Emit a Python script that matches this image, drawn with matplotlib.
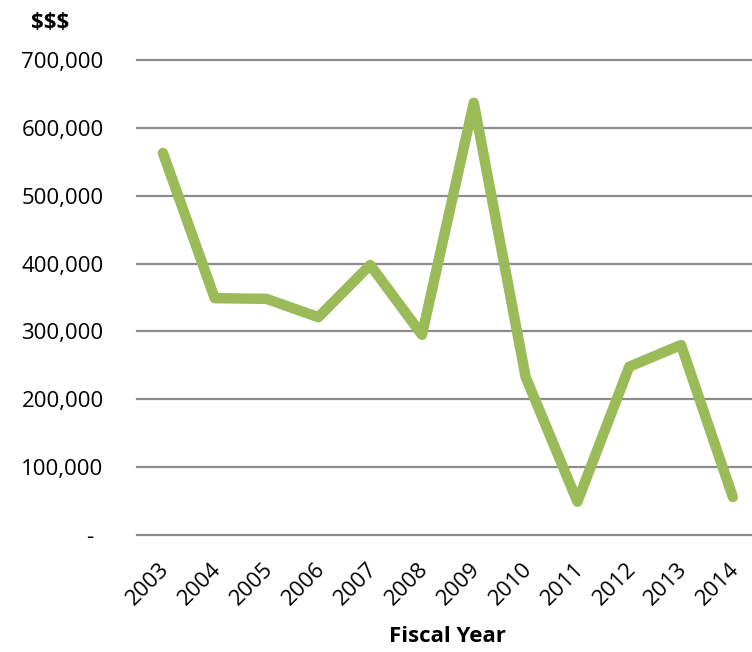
import matplotlib
matplotlib.use("Agg")
import matplotlib.pyplot as plt
from matplotlib.transforms import ScaledTranslation

years = ["2003", "2004", "2005", "2006", "2007", "2008",
         "2009", "2010", "2011", "2012", "2013", "2014"]
amounts = [563000, 349000, 348000, 321000, 398000, 295000,
           637000, 233000, 49000, 248000, 280000, 56000]
y_ticks = [0, 100000, 200000, 300000, 400000, 500000, 600000, 700000]
y_tick_labels = ["-", "100,000", "200,000", "300,000", "400,000",
                 "500,000", "600,000", "700,000"]

plt.rcParams["font.family"] = ["Open Sans", "DejaVu Sans"]

fig = plt.figure(figsize=(7.52, 6.52), dpi=100)
ax = fig.add_axes([137 / 752, 1 - 535 / 652, 1 - 137 / 752, (535 - 60) / 652])

x = list(range(len(years)))
ax.plot(x, amounts, color="#9BBB59", linewidth=7.5,
        solid_joinstyle="round", solid_capstyle="round", zorder=3)

ax.set_ylim(0, 700000)
ax.set_xlim(-0.5, 11.37)
ax.set_yticks(y_ticks)
ax.set_yticklabels(y_tick_labels, fontsize=16)
ax.set_xticks(x)
ax.set_xticklabels(years, fontsize=16, rotation=45, ha="right",
                   rotation_mode="anchor")

for yv in y_ticks:
    ax.axhline(yv, color="#8C8C8C", linewidth=1.6, zorder=1, clip_on=False)

for s in ax.spines.values():
    s.set_visible(False)
ax.tick_params(axis="both", length=0)
ax.tick_params(axis="y", pad=24)
ax.tick_params(axis="x", pad=17)

# nudge the rotated year labels slightly left
for lbl in ax.get_xticklabels():
    lbl.set_transform(lbl.get_transform() +
                      ScaledTranslation(-0.04, 0, fig.dpi_scale_trans))

zero_label = ax.get_yticklabels()[0]
zero_label.set_transform(zero_label.get_transform() +
                         ScaledTranslation(-0.10, 0, fig.dpi_scale_trans))

fig.text(50 / 752, 1 - 22 / 652, "$$$", fontsize=16, fontweight="bold",
         ha="center", va="center")
fig.text(447 / 752, 1 - 637 / 652, "Fiscal Year", fontsize=16,
         fontweight="bold", ha="center", va="center")

fig.savefig("out.png", dpi=100)
